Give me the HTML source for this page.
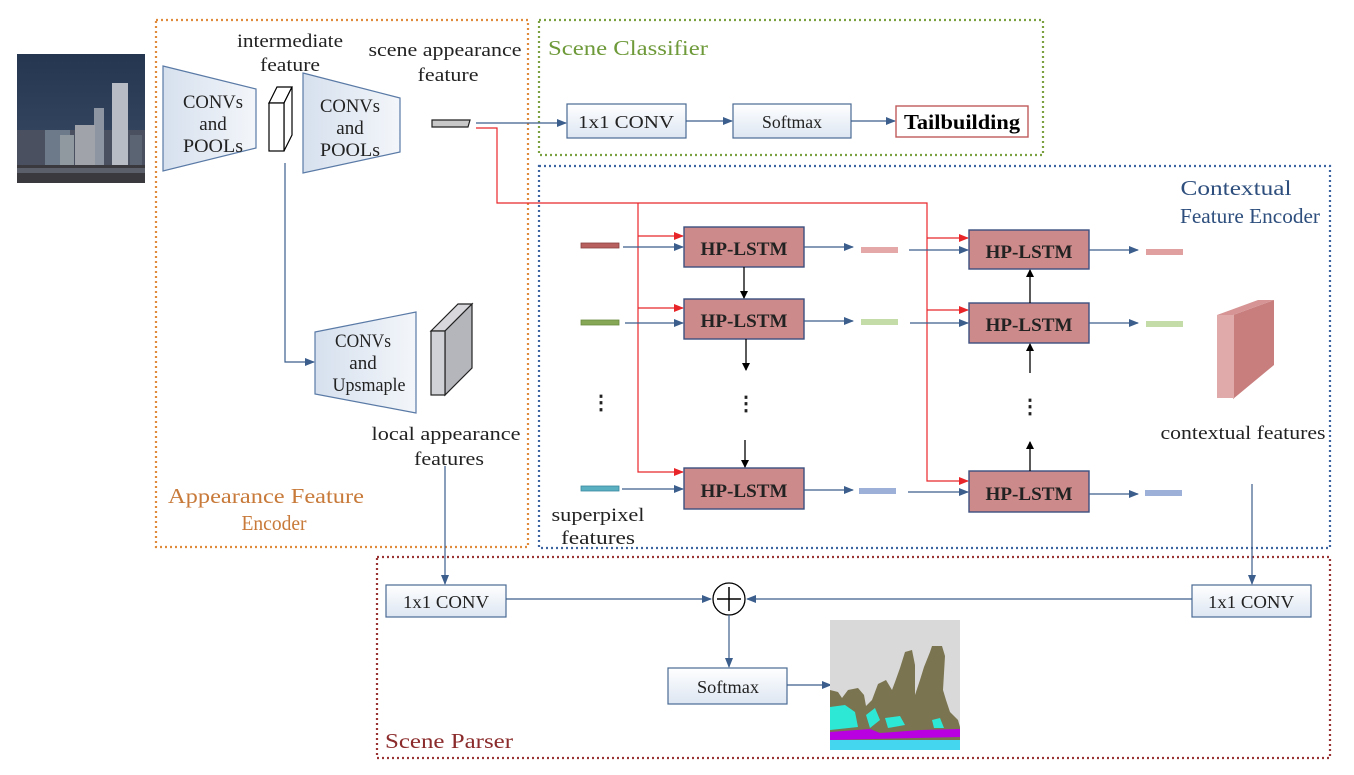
<!DOCTYPE html>
<html><head><meta charset="utf-8"><style>
html,body{margin:0;padding:0;background:#fff;}
svg{display:block;font-family:"Liberation Serif",serif;}
</style></head><body>
<svg width="1354" height="775" viewBox="0 0 1354 775" xmlns="http://www.w3.org/2000/svg">
<defs>
<linearGradient id="bx" x1="0" y1="0" x2="0" y2="1"><stop offset="0" stop-color="#ffffff"/><stop offset="1" stop-color="#dde6f2"/></linearGradient>
<linearGradient id="tz" x1="0" y1="0" x2="1" y2="0"><stop offset="0" stop-color="#d6e0ee"/><stop offset="1" stop-color="#f3f6fa"/></linearGradient>
<linearGradient id="sky" x1="0" y1="0" x2="0" y2="1"><stop offset="0" stop-color="#243650"/><stop offset="1" stop-color="#3a4c66"/></linearGradient>
<marker id="ab" markerWidth="10" markerHeight="8" refX="9" refY="4" orient="auto" markerUnits="userSpaceOnUse"><path d="M0,0 L10,4 L0,8 z" fill="#3b5e8c"/></marker>
<marker id="ar" markerWidth="10" markerHeight="8" refX="9" refY="4" orient="auto" markerUnits="userSpaceOnUse"><path d="M0,0 L10,4 L0,8 z" fill="#e8262a"/></marker>
<marker id="ak" markerWidth="8" markerHeight="10" refX="7" refY="4" orient="auto" markerUnits="userSpaceOnUse"><path d="M0,0 L8,4 L0,8 z" fill="#000"/></marker>
</defs>

<rect x="156" y="20" width="372" height="527" fill="none" stroke="#e08a3c" stroke-width="2.2" stroke-dasharray="2,3"/>
<rect x="539" y="20" width="504" height="135" fill="none" stroke="#7aa040" stroke-width="2.2" stroke-dasharray="2,3"/>
<rect x="539" y="166" width="791" height="382" fill="none" stroke="#3c64a0" stroke-width="2.2" stroke-dasharray="2,3"/>
<rect x="377" y="557" width="953" height="201" fill="none" stroke="#9a3434" stroke-width="2.2" stroke-dasharray="2,3"/>

<!-- city image -->
<rect x="17" y="54" width="128" height="129" fill="url(#sky)"/>
<rect x="17" y="130" width="128" height="53" fill="#4a5060"/>
<rect x="112" y="83" width="16" height="85" fill="#b8bcc4"/>
<rect x="94" y="108" width="10" height="60" fill="#8d95a3"/>
<rect x="75" y="125" width="20" height="45" fill="#a0a4aa"/>
<rect x="45" y="130" width="25" height="40" fill="#6d7a8a"/>
<rect x="60" y="135" width="14" height="35" fill="#9098a0"/>
<rect x="130" y="135" width="12" height="35" fill="#5a6472"/>
<rect x="17" y="165" width="128" height="18" fill="#3a3a3e"/>
<rect x="17" y="168" width="128" height="5" fill="#5a5f6a"/>

<g font-size="19" fill="#222" text-anchor="middle" lengthAdjust="spacingAndGlyphs">
<polygon points="163,66 256,89 256,148 163,171" fill="url(#tz)" stroke="#5a7aa6" stroke-width="1.2"/>
<text x="213" y="108" textLength="60" lengthAdjust="spacingAndGlyphs">CONVs</text>
<text x="213" y="130">and</text>
<text x="213" y="152" textLength="60" lengthAdjust="spacingAndGlyphs">POOLs</text>
<polygon points="303,73 400,98 400,152 303,173" fill="url(#tz)" stroke="#5a7aa6" stroke-width="1.2"/>
<text x="350" y="112" textLength="60" lengthAdjust="spacingAndGlyphs">CONVs</text>
<text x="350" y="134">and</text>
<text x="350" y="156" textLength="60" lengthAdjust="spacingAndGlyphs">POOLs</text>
<polygon points="315,332 416,312 416,413 315,394" fill="url(#tz)" stroke="#5a7aa6" stroke-width="1.2"/>
<text x="363" y="347" textLength="56" lengthAdjust="spacingAndGlyphs">CONVs</text>
<text x="363" y="369">and</text>
<text x="369" y="391" textLength="73" lengthAdjust="spacingAndGlyphs">Upsmaple</text>

<text x="290" y="47" textLength="106" lengthAdjust="spacingAndGlyphs">intermediate</text>
<text x="290" y="71" textLength="60" lengthAdjust="spacingAndGlyphs">feature</text>
<text x="445" y="56" textLength="153" lengthAdjust="spacingAndGlyphs">scene appearance</text>
<text x="448" y="81" textLength="61" lengthAdjust="spacingAndGlyphs">feature</text>
<text x="446" y="440" textLength="149" lengthAdjust="spacingAndGlyphs">local appearance</text>
<text x="449" y="465" textLength="70" lengthAdjust="spacingAndGlyphs">features</text>
<text x="1243" y="439" textLength="165" lengthAdjust="spacingAndGlyphs">contextual features</text>
<text x="598" y="521" textLength="93" lengthAdjust="spacingAndGlyphs">superpixel</text>
<text x="598" y="544" textLength="74" lengthAdjust="spacingAndGlyphs">features</text>
</g>

<polygon points="269,103 284,103 292,87 277,87" fill="#fff" stroke="#000" stroke-width="1.2"/>
<polygon points="284,103 292,87 292,135 284,151" fill="#fff" stroke="#000" stroke-width="1.2"/>
<rect x="269" y="103" width="15" height="48" fill="#fff" stroke="#000" stroke-width="1.2"/>
<polygon points="432,120 470,120 468,127 432,127" fill="#c8c8c8" stroke="#222" stroke-width="1.2"/>

<polygon points="431,331 445,331 472,304 458,304" fill="#d8d8dc" stroke="#222" stroke-width="1.2"/>
<polygon points="445,331 472,304 472,368 445,395" fill="#b4b6bc" stroke="#222" stroke-width="1.2"/>
<rect x="431" y="331" width="14" height="64" fill="#d0d2d8" stroke="#222" stroke-width="1.2"/>

<g font-size="21" text-anchor="middle">
<text x="266" y="503" fill="#c87a3a" textLength="196" lengthAdjust="spacingAndGlyphs">Appearance Feature</text>
<text x="274" y="530" fill="#c87a3a" textLength="65" lengthAdjust="spacingAndGlyphs">Encoder</text>
<text x="628" y="55" fill="#6e9a3a" textLength="160" lengthAdjust="spacingAndGlyphs">Scene Classifier</text>
<text x="1236" y="195" fill="#2e4f7e" textLength="111" lengthAdjust="spacingAndGlyphs">Contextual</text>
<text x="1250" y="223" fill="#2e4f7e" textLength="140" lengthAdjust="spacingAndGlyphs">Feature Encoder</text>
<text x="449" y="748" fill="#8b2b2b" textLength="128" lengthAdjust="spacingAndGlyphs">Scene Parser</text>
</g>

<polyline points="285,163 285,362 314,362" fill="none" stroke="#3b5e8c" stroke-width="1.2" marker-end="url(#ab)"/>

<line x1="476" y1="123" x2="566" y2="123" stroke="#3b5e8c" stroke-width="1.2" marker-end="url(#ab)"/>
<rect x="567" y="104" width="119" height="34" fill="url(#bx)" stroke="#4a6a94" stroke-width="1.2"/>
<text x="626" y="128" font-size="18" text-anchor="middle" fill="#222" textLength="96" lengthAdjust="spacingAndGlyphs">1x1 CONV</text>
<line x1="686" y1="121" x2="732" y2="121" stroke="#3b5e8c" stroke-width="1.2" marker-end="url(#ab)"/>
<rect x="733" y="104" width="118" height="34" fill="url(#bx)" stroke="#4a6a94" stroke-width="1.2"/>
<text x="792" y="128" font-size="18" text-anchor="middle" fill="#222" textLength="60" lengthAdjust="spacingAndGlyphs">Softmax</text>
<line x1="851" y1="121" x2="895" y2="121" stroke="#3b5e8c" stroke-width="1.2" marker-end="url(#ab)"/>
<rect x="896" y="106" width="132" height="31" fill="#fff" stroke="#c05a5a" stroke-width="1.4"/>
<text x="962" y="129" font-size="21" font-weight="bold" text-anchor="middle" fill="#000" textLength="116" lengthAdjust="spacingAndGlyphs">Tailbuilding</text>

<polyline points="476,128 497,128 497,203 927,203 927,481 968,481" fill="none" stroke="#e8262a" stroke-width="1.2" marker-end="url(#ar)"/>
<polyline points="638,203 638,472 683,472" fill="none" stroke="#e8262a" stroke-width="1.2" marker-end="url(#ar)"/>
<line x1="638" y1="236" x2="683" y2="236" stroke="#e8262a" stroke-width="1.2" marker-end="url(#ar)"/>
<line x1="638" y1="308" x2="683" y2="308" stroke="#e8262a" stroke-width="1.2" marker-end="url(#ar)"/>
<line x1="927" y1="238" x2="968" y2="238" stroke="#e8262a" stroke-width="1.2" marker-end="url(#ar)"/>
<line x1="927" y1="310" x2="968" y2="310" stroke="#e8262a" stroke-width="1.2" marker-end="url(#ar)"/>

<g fill="#cd8a8a" stroke="#3d4f80" stroke-width="1.4">
<rect x="684" y="227" width="120" height="40"/>
<rect x="684" y="299" width="120" height="40"/>
<rect x="684" y="468" width="120" height="41"/>
<rect x="969" y="230" width="120" height="39"/>
<rect x="969" y="303" width="120" height="40"/>
<rect x="969" y="471" width="120" height="41"/>
</g>
<g font-size="19" font-weight="bold" text-anchor="middle" fill="#222">
<text x="744" y="255" textLength="87" lengthAdjust="spacingAndGlyphs">HP-LSTM</text>
<text x="744" y="327" textLength="87" lengthAdjust="spacingAndGlyphs">HP-LSTM</text>
<text x="744" y="497" textLength="87" lengthAdjust="spacingAndGlyphs">HP-LSTM</text>
<text x="1029" y="258" textLength="87" lengthAdjust="spacingAndGlyphs">HP-LSTM</text>
<text x="1029" y="331" textLength="87" lengthAdjust="spacingAndGlyphs">HP-LSTM</text>
<text x="1029" y="500" textLength="87" lengthAdjust="spacingAndGlyphs">HP-LSTM</text>
</g>

<rect x="581" y="243" width="38" height="5" fill="#b86060" stroke="#8a4040" stroke-width="0.8"/>
<rect x="581" y="320" width="38" height="5" fill="#86a856" stroke="#6a8a40" stroke-width="0.8"/>
<rect x="581" y="486" width="38" height="5" fill="#5ab0c0" stroke="#3a8aa0" stroke-width="0.8"/>
<rect x="861" y="247" width="37" height="6" fill="#e4a8a8"/>
<rect x="861" y="319" width="37" height="6" fill="#c4dca8"/>
<rect x="859" y="488" width="37" height="6" fill="#9cb0d8"/>
<rect x="1146" y="249" width="37" height="6" fill="#e0a0a0"/>
<rect x="1146" y="321" width="37" height="6" fill="#c4dca8"/>
<rect x="1145" y="490" width="37" height="6" fill="#9cb0d8"/>

<g stroke="#3b5e8c" stroke-width="1.2" marker-end="url(#ab)">
<line x1="623" y1="247" x2="683" y2="247"/>
<line x1="625" y1="323" x2="683" y2="323"/>
<line x1="622" y1="489" x2="683" y2="489"/>
<line x1="804" y1="247" x2="853" y2="247"/>
<line x1="804" y1="321" x2="853" y2="321"/>
<line x1="804" y1="490" x2="853" y2="490"/>
<line x1="909" y1="250" x2="968" y2="250"/>
<line x1="910" y1="323" x2="968" y2="323"/>
<line x1="908" y1="492" x2="968" y2="492"/>
<line x1="1089" y1="250" x2="1138" y2="250"/>
<line x1="1089" y1="323" x2="1138" y2="323"/>
<line x1="1089" y1="494" x2="1138" y2="494"/>
</g>

<g stroke="#000" stroke-width="1.3" marker-end="url(#ak)">
<line x1="744" y1="267" x2="744" y2="298"/>
<line x1="746" y1="339" x2="746" y2="370"/>
<line x1="745" y1="440" x2="745" y2="467"/>
<line x1="1030" y1="303" x2="1030" y2="270"/>
<line x1="1030" y1="373" x2="1030" y2="344"/>
<line x1="1030" y1="471" x2="1030" y2="442"/>
</g>
<g font-size="20" font-weight="bold" fill="#222" text-anchor="middle">
<text x="601" y="409">⋮</text>
<text x="746" y="410">⋮</text>
<text x="1030" y="413">⋮</text>
</g>

<polygon points="1233,315 1274,300 1274,365 1233,399" fill="#c97e7e"/>
<rect x="1217" y="315" width="17" height="83" fill="#e0aaaa"/>
<polygon points="1217,315 1233,315 1274,300 1258,300" fill="#d69494"/>

<line x1="445" y1="466" x2="445" y2="584" stroke="#3b5e8c" stroke-width="1.2" marker-end="url(#ab)"/>
<line x1="1252" y1="484" x2="1252" y2="584" stroke="#3b5e8c" stroke-width="1.2" marker-end="url(#ab)"/>
<rect x="386" y="585" width="120" height="32" fill="url(#bx)" stroke="#4a6a94" stroke-width="1.2"/>
<text x="446" y="608" font-size="18" text-anchor="middle" fill="#222" textLength="86" lengthAdjust="spacingAndGlyphs">1x1 CONV</text>
<rect x="1192" y="585" width="119" height="32" fill="url(#bx)" stroke="#4a6a94" stroke-width="1.2"/>
<text x="1251" y="608" font-size="18" text-anchor="middle" fill="#222" textLength="86" lengthAdjust="spacingAndGlyphs">1x1 CONV</text>
<line x1="506" y1="599" x2="711" y2="599" stroke="#3b5e8c" stroke-width="1.2" marker-end="url(#ab)"/>
<line x1="1192" y1="599" x2="747" y2="599" stroke="#3b5e8c" stroke-width="1.2" marker-end="url(#ab)"/>
<circle cx="729" cy="599" r="16" fill="#fff" stroke="#000" stroke-width="1.3"/>
<line x1="717" y1="599" x2="741" y2="599" stroke="#000" stroke-width="1.5"/>
<line x1="729" y1="587" x2="729" y2="611" stroke="#000" stroke-width="1.5"/>
<line x1="729" y1="615" x2="729" y2="667" stroke="#3b5e8c" stroke-width="1.2" marker-end="url(#ab)"/>
<rect x="668" y="668" width="119" height="36" fill="url(#bx)" stroke="#4a6a94" stroke-width="1.2"/>
<text x="728" y="693" font-size="18" text-anchor="middle" fill="#222" textLength="62" lengthAdjust="spacingAndGlyphs">Softmax</text>
<line x1="787" y1="685" x2="831" y2="685" stroke="#3b5e8c" stroke-width="1.2" marker-end="url(#ab)"/>

<rect x="830" y="620" width="130" height="130" fill="#d9d9d9"/>
<path d="M830,690 L838,692 L842,698 L848,690 L858,688 L864,695 L866,706 L872,700 L878,684 L886,680 L892,690 L895,682 L900,668 L905,652 L912,650 L915,665 L915,695 L920,680 L924,667 L930,652 L932,646 L942,646 L945,656 L943,690 L946,700 L950,712 L958,720 L960,727 L960,740 L830,740 Z" fill="#7a7450"/>
<path d="M830,707 L845,705 L855,712 L858,727 L830,730 Z" fill="#2ee8d6"/>
<path d="M866,715 L875,708 L880,720 L870,728 Z" fill="#2ee8d6"/>
<path d="M885,718 L900,716 L905,725 L888,728 Z" fill="#2ee8d6"/>
<path d="M932,720 L940,718 L944,728 L934,728 Z" fill="#2ee8d6"/>
<path d="M830,732 L870,729 L880,733 L920,730 L960,729 L960,737 L830,740 Z" fill="#b800e0"/>
<rect x="830" y="740" width="130" height="10" fill="#44d6ee"/>
</svg>
</body></html>
